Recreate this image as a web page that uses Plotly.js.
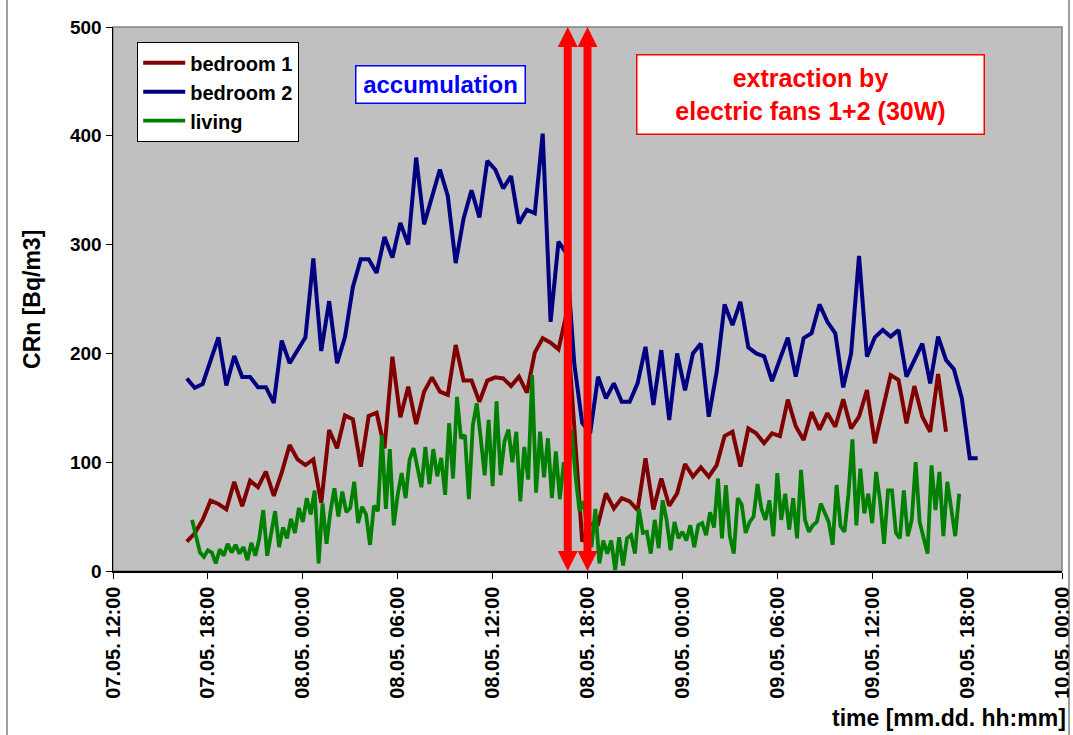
<!DOCTYPE html>
<html><head><meta charset="utf-8">
<script src="https://cdn.plot.ly/plotly-3.0.1.min.js"></script>
<style>html,body{margin:0;padding:0;background:#fff}#chart{width:1073px;height:735px}</style>
</head><body><div id="chart"></div>
<script>
// ---- data ----
const seriesNames = ['bedroom 1', 'bedroom 2', 'living'];
const bedroom1Start = '2009-05-07 16:40';   // 30-min samples
const bedroom1 = [27,34.6,47,64.6,61.6,56.7,82,59.7,83,77,
  91.3,69,90.4,115.8,102.6,97.4,102.6,62.5,129.6,112.8,
  143,139.4,95.9,142.5,145.5,112.8,197,141.3,169.4,135,
  164.8,178,164.8,161.8,207.7,175,175,155.6,175,178,
  177,170,178.6,164,200.7,213.9,209.9,203.7,236,135,
  27,43,43,71.4,57.5,67,64,56,103.6,56.5,
  85,60,71.4,98.3,86.7,95.3,86.7,97.4,124,128,
  96,131,126.5,117.5,126.5,124,157.5,133,120.4,146,
  130,145,132.6,157.8,131,141.8,166.4,117.3,149.5,180,
  175.5,135.7,170,141.8,128,181,128];
const bedroom2Start = '2009-05-07 16:40';   // 30-min samples
const bedroom2 = [177,168.4,171.9,194,214.8,170.6,197.6,178.3,178.3,169,
  169,154.5,211.8,191,203,214.8,287.3,202.2,248,191,
  215,261,286.5,286.5,274,307,288,320,300,380,
  318.6,344,369,344.7,283,324,350,325,377,369,
  351.7,363,319.5,332,328.7,402,229,302.7,292,190,
  136,126.5,178.6,158.7,172.5,155.6,155.6,172.5,206,152.6,
  203,138.8,200,166,200,209,141.8,183,245,226,
  247.5,205.5,200,197.3,174.5,194.8,214.5,178.6,214,218.5,
  245,229,218.5,168.8,200,289.5,197,214.8,221.5,215.4,
  221.5,178.6,194,209,172.5,215.4,194,185.4,158.7,103.6,103.6];
const livingStart = '2009-05-07 17:00';     // 15-min samples
const living = [47,30,17,13,19,17,7,20,14,25,17,24,16,22,10,26,14,30,56,14,
  36,55,22,40,30,48,35,58,45,67,52,74,7,62,25,55,76,50,73,
  54,58,82,44,59,52,24,60,55,125,57,112,42,70,90,67,102,113,94,77,
  114,80,112,87,104,70,136,85,160,122,125,66,134,154,122,88,139,78,156,88,119,
  130,100,128,64,114,84,180,72,128,86,122,67,110,66,100,75,130,86,55,64,
  40,22,57,7,28,16,28,1,31,5,30,33,16,57,35,36,16,47,21,65,47,
  19,45,30,36,28,42,22,42,44,33,54,40,85,30,79,32,16,67,61,35,
  45,50,80,57,47,65,32,90,47,71,38,67,30,93,47,36,42,45,62,54,45,
  24,79,41,36,71,121,42,94,53,71,44,91,64,25,74,74,35,30,74,32,
  47,100,45,30,16,97,56,91,32,82,56,32,71];
const fanTimes = ['2009-05-08 16:45', '2009-05-08 18:00'];
const yTickVals = [0, 100, 200, 300, 400, 500];
const xRange = ['2009-05-07 12:00', '2009-05-10 00:00'];
const annotationTexts = ['accumulation', 'extraction by<br>electric fans 1+2 (30W)'];
const yTitle = 'CRn [Bq/m3]';
const xTitle = 'time [mm.dd. hh:mm]';

function timeAxis(start, stepMin, n) {
  const t0 = Date.parse(start.replace(' ', 'T') + ':00Z');
  const out = [];
  for (let i = 0; i < n; i++) {
    out.push(new Date(t0 + i * stepMin * 60000).toISOString().slice(0, 16).replace('T', ' '));
  }
  return out;
}

const FONT = 'Liberation Sans, Arial, sans-serif';
const colors = ['#800000', '#000080', '#008000'];

const traces = [
  {x: timeAxis(bedroom1Start, 30, bedroom1.length), y: bedroom1, name: seriesNames[0], legendgroup: 'a',
   type: 'scatter', mode: 'lines', line: {color: colors[0], width: 4}},
  {x: timeAxis(bedroom2Start, 30, bedroom2.length), y: bedroom2, name: seriesNames[1], legendgroup: 'b',
   type: 'scatter', mode: 'lines', line: {color: colors[1], width: 4}},
  {x: timeAxis(livingStart, 15, living.length), y: living, name: seriesNames[2], legendgroup: 'c',
   type: 'scatter', mode: 'lines', line: {color: colors[2], width: 3.8}}
];

const shapes = [
  {type: 'rect', xref: 'paper', yref: 'paper', x0: 0, x1: 1, y0: 0, y1: 1,
   line: {color: '#808080', width: 1.5}, layer: 'below'},
  // outer chart frame (left and right edges)
  {type: 'line', xref: 'paper', yref: 'paper', x0: -0.1117, x1: -0.1117, y0: -0.31, y1: 1.06,
   line: {color: '#404040', width: 1}},
  {type: 'line', xref: 'paper', yref: 'paper', x0: 1.0074, x1: 1.0074, y0: -0.31, y1: 1.06,
   line: {color: '#404040', width: 1}}
];
fanTimes.forEach(t => {
  shapes.push({type: 'line', xref: 'x', yref: 'y', x0: t, x1: t, y0: 15, y1: 485,
    line: {color: '#FF0000', width: 8}});
  shapes.push({type: 'path', xref: 'x', yref: 'y', xsizemode: 'pixel', ysizemode: 'pixel',
    xanchor: t, yanchor: 500, path: 'M-10,-20L10,-20L0,0Z', fillcolor: '#FF0000', line: {width: 0}});
  shapes.push({type: 'path', xref: 'x', yref: 'y', xsizemode: 'pixel', ysizemode: 'pixel',
    xanchor: t, yanchor: 0, path: 'M-10,20L10,20L0,0Z', fillcolor: '#FF0000', line: {width: 0}});
});

const annotations = [
  {text: annotationTexts[0], xref: 'paper', yref: 'paper', x: 0.3456, y: 0.8943,
   xanchor: 'center', yanchor: 'middle', showarrow: false,
   font: {family: FONT, size: 24, color: '#0000FF', weight: 'bold'},
   bgcolor: '#FFFFFF', bordercolor: '#0000FF', borderwidth: 1.5, borderpad: 3, width: 162, height: 30},
  {text: annotationTexts[1], xref: 'paper', yref: 'paper', x: 0.735, y: 0.876,
   xanchor: 'center', yanchor: 'middle', showarrow: false, align: 'center',
   font: {family: FONT, size: 25, color: '#FF0000', weight: 'bold'},
   bgcolor: '#FFFFFF', bordercolor: '#FF0000', borderwidth: 1.5, borderpad: 3, width: 340, height: 72},
  {text: yTitle, xref: 'paper', yref: 'paper', x: -0.0854, y: 0.5, textangle: -90,
   xanchor: 'center', yanchor: 'middle', showarrow: false,
   font: {family: FONT, size: 23, color: '#000000', weight: 'bold'}},
  {text: xTitle, xref: 'paper', yref: 'paper', x: 1.0063, y: -0.27,
   xanchor: 'right', yanchor: 'middle', showarrow: false,
   font: {family: FONT, size: 23, color: '#000000', weight: 'bold'}}
];

const layout = {
  width: 1073, height: 735,
  margin: {l: 113, r: 11, t: 27, b: 164},
  paper_bgcolor: '#FFFFFF', plot_bgcolor: '#C0C0C0',
  font: {family: FONT, color: '#000000'},
  showlegend: true,
  legend: {x: 0.0253, y: 0.9724, xanchor: 'left', yanchor: 'top',
    bgcolor: '#FFFFFF', bordercolor: '#000000', borderwidth: 1.2,
    font: {family: FONT, size: 20, color: '#000000', weight: 'bold'},
    tracegroupgap: 11, traceorder: 'normal', itemwidth: 42},
  xaxis: {type: 'date', range: xRange, tick0: xRange[0], dtick: 6 * 3600 * 1000,
    tickformat: '%d.%m. %H:%M', tickangle: -90, ticks: 'outside', ticklen: 6, tickcolor: '#000',
    showline: true, linecolor: '#000', linewidth: 1.5, showgrid: false, zeroline: false,
    tickfont: {family: FONT, size: 20, color: '#000', weight: 'bold'}, fixedrange: true},
  yaxis: {range: [0, 500], tickvals: yTickVals, ticks: 'outside', ticklen: 6, tickcolor: '#000',
    showline: true, linecolor: '#000', linewidth: 1.5, showgrid: false, zeroline: false,
    tickfont: {family: FONT, size: 19, color: '#000', weight: 'bold'}, fixedrange: true},
  shapes: shapes,
  annotations: annotations
};

Plotly.newPlot('chart', traces, layout, {displayModeBar: false, staticPlot: true});
</script></body></html>
